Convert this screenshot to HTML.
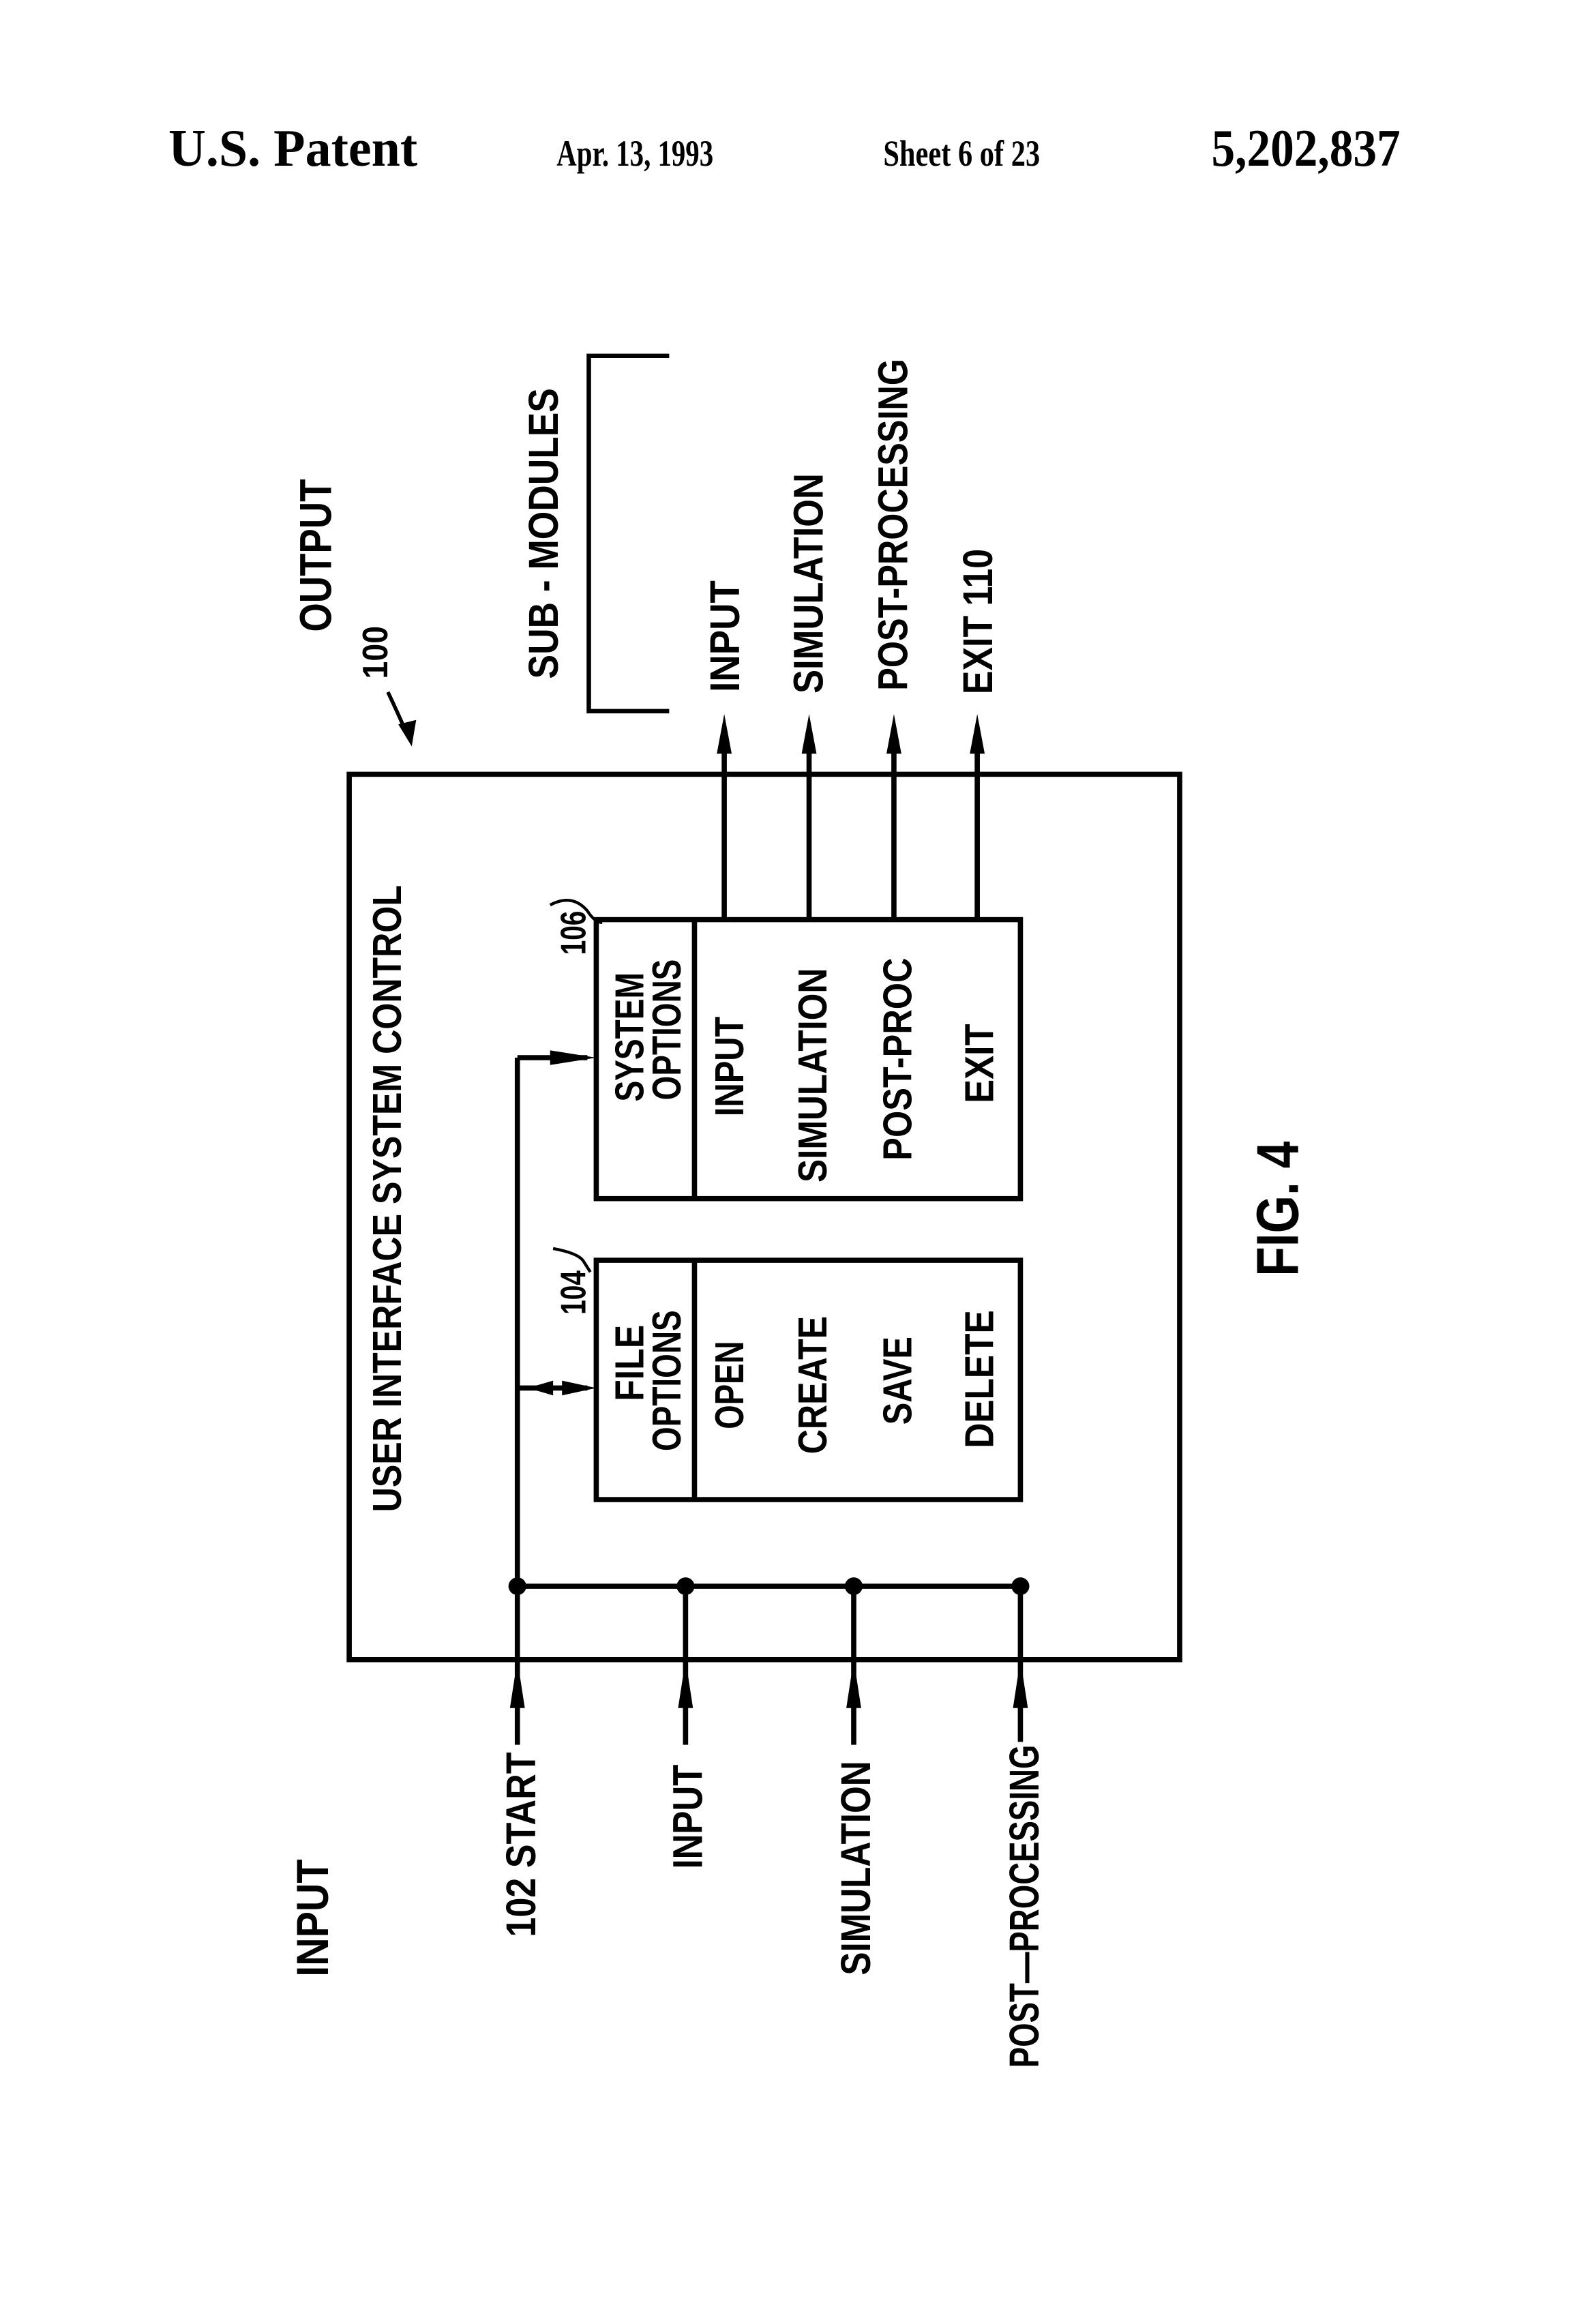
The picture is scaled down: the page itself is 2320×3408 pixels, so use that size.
<!DOCTYPE html>
<html><head><meta charset="utf-8"><style>
html,body{margin:0;padding:0;background:#fff;}
svg{display:block;}
.t{font-family:"Liberation Sans",sans-serif;font-weight:bold;fill:#000;}
.h{font-family:"Liberation Serif",serif;font-weight:bold;fill:#000;}
</style></head><body>
<svg width="2320" height="3408" viewBox="0 0 1080 1586" preserveAspectRatio="none" xmlns="http://www.w3.org/2000/svg">
<rect width="1080" height="1586" fill="#fff"/>
<text class="h" x="115" y="113" font-size="36" textLength="170" lengthAdjust="spacingAndGlyphs">U.S. Patent</text>
<text class="h" x="380" y="113" font-size="25" textLength="107" lengthAdjust="spacingAndGlyphs">Apr. 13, 1993</text>
<text class="h" x="603" y="113" font-size="25" textLength="107" lengthAdjust="spacingAndGlyphs">Sheet 6 of 23</text>
<text class="h" x="827" y="113" font-size="36" textLength="129" lengthAdjust="spacingAndGlyphs">5,202,837</text>

<g transform="translate(238.4,528.4) scale(1.016,1.002) translate(-235,-519)">
<g stroke="#000" fill="none" stroke-width="3.5">
<rect x="235" y="519" width="558" height="603"/>
<rect x="401" y="850" width="285" height="163"/>
<line x1="467" y1="850" x2="467" y2="1013"/>
<rect x="401" y="618" width="285" height="190"/>
<line x1="467" y1="618" x2="467" y2="808"/>
<line x1="348" y1="1072" x2="686" y2="1072"/>
<line x1="348" y1="712" x2="348" y2="1180"/>
<line x1="461" y1="1072" x2="461" y2="1180"/>
<line x1="574" y1="1072" x2="574" y2="1180"/>
<line x1="686" y1="1072" x2="686" y2="1178"/>
<line x1="348" y1="712" x2="395" y2="712"/>
<line x1="348" y1="937" x2="395" y2="937"/>
<line x1="487" y1="618" x2="487" y2="490"/>
<line x1="544" y1="618" x2="544" y2="490"/>
<line x1="601" y1="618" x2="601" y2="490"/>
<line x1="657" y1="618" x2="657" y2="490"/>
<polyline points="450,234 396,234 396,476 450,476" stroke-width="3"/>
<path d="M261,463 Q268,478 274,492" stroke-width="2.5"/>
<path d="M370,608 Q385,600 395,612 Q400,620 405,620" stroke-width="2"/>
<path d="M372,842 Q388,845 392,850 L397,858" stroke-width="2"/>
</g>
<g fill="#000">
<circle cx="348" cy="1072" r="6"/><circle cx="461" cy="1072" r="6"/><circle cx="574" cy="1072" r="6"/><circle cx="686" cy="1072" r="6"/>
<polygon points="348,1122 343,1155 353,1155"/>
<polygon points="461,1122 456,1155 466,1155"/>
<polygon points="574,1122 569,1155 579,1155"/>
<polygon points="686,1122 681,1155 691,1155"/>
<polygon points="401,712 370,707 370,717"/>
<polygon points="401,937 378,932 378,942"/>
<polygon points="355,937 372,932 372,942"/>
<polygon points="487,478 482,505 492,505"/>
<polygon points="544,478 539,505 549,505"/>
<polygon points="601,478 596,505 606,505"/>
<polygon points="657,478 652,505 662,505"/>
<polygon points="277,500 268,485 280,482"/>
</g>

<g class="t">
<text transform="translate(210,1298) rotate(-90)" text-anchor="middle" dy="0.36em" font-size="30" textLength="80" lengthAdjust="spacingAndGlyphs">INPUT</text>
<text transform="translate(212,370) rotate(-90)" text-anchor="middle" dy="0.36em" font-size="30" textLength="104" lengthAdjust="spacingAndGlyphs">OUTPUT</text>
<text transform="translate(252,436) rotate(-90)" text-anchor="middle" dy="0.36em" font-size="24" textLength="36" lengthAdjust="spacingAndGlyphs">100</text>
<text transform="translate(365,355) rotate(-90)" text-anchor="middle" dy="0.36em" font-size="28" textLength="198" lengthAdjust="spacingAndGlyphs">SUB - MODULES</text>
<text transform="translate(487,425) rotate(-90)" text-anchor="middle" dy="0.36em" font-size="28" textLength="76" lengthAdjust="spacingAndGlyphs">INPUT</text>
<text transform="translate(543,389) rotate(-90)" text-anchor="middle" dy="0.36em" font-size="28" textLength="150" lengthAdjust="spacingAndGlyphs">SIMULATION</text>
<text transform="translate(600,349) rotate(-90)" text-anchor="middle" dy="0.36em" font-size="28" textLength="226" lengthAdjust="spacingAndGlyphs">POST-PROCESSING</text>
<text transform="translate(657,415) rotate(-90)" text-anchor="middle" dy="0.36em" font-size="28" textLength="99" lengthAdjust="spacingAndGlyphs">EXIT 110</text>
<text transform="translate(260,808) rotate(-90)" text-anchor="middle" dy="0.36em" font-size="27" textLength="427" lengthAdjust="spacingAndGlyphs">USER INTERFACE SYSTEM CONTROL</text>
<text transform="translate(385,627) rotate(-90)" text-anchor="middle" dy="0.36em" font-size="24" textLength="30" lengthAdjust="spacingAndGlyphs">106</text>
<text transform="translate(385,872) rotate(-90)" text-anchor="middle" dy="0.36em" font-size="24" textLength="30" lengthAdjust="spacingAndGlyphs">104</text>
<text transform="translate(423,698) rotate(-90)" text-anchor="middle" dy="0.36em" font-size="27" textLength="88" lengthAdjust="spacingAndGlyphs">SYSTEM</text>
<text transform="translate(448,693) rotate(-90)" text-anchor="middle" dy="0.36em" font-size="27" textLength="96" lengthAdjust="spacingAndGlyphs">OPTIONS</text>
<text transform="translate(490,718) rotate(-90)" text-anchor="middle" dy="0.36em" font-size="27" textLength="68" lengthAdjust="spacingAndGlyphs">INPUT</text>
<text transform="translate(546,724) rotate(-90)" text-anchor="middle" dy="0.36em" font-size="27" textLength="146" lengthAdjust="spacingAndGlyphs">SIMULATION</text>
<text transform="translate(603,713) rotate(-90)" text-anchor="middle" dy="0.36em" font-size="27" textLength="138" lengthAdjust="spacingAndGlyphs">POST-PROC</text>
<text transform="translate(658,716) rotate(-90)" text-anchor="middle" dy="0.36em" font-size="27" textLength="54" lengthAdjust="spacingAndGlyphs">EXIT</text>
<text transform="translate(423,920) rotate(-90)" text-anchor="middle" dy="0.36em" font-size="27" textLength="52" lengthAdjust="spacingAndGlyphs">FILE</text>
<text transform="translate(448,932) rotate(-90)" text-anchor="middle" dy="0.36em" font-size="27" textLength="96" lengthAdjust="spacingAndGlyphs">OPTIONS</text>
<text transform="translate(490,935) rotate(-90)" text-anchor="middle" dy="0.36em" font-size="27" textLength="60" lengthAdjust="spacingAndGlyphs">OPEN</text>
<text transform="translate(546,935) rotate(-90)" text-anchor="middle" dy="0.36em" font-size="27" textLength="94" lengthAdjust="spacingAndGlyphs">CREATE</text>
<text transform="translate(603,932) rotate(-90)" text-anchor="middle" dy="0.36em" font-size="27" textLength="60" lengthAdjust="spacingAndGlyphs">SAVE</text>
<text transform="translate(658,931) rotate(-90)" text-anchor="middle" dy="0.36em" font-size="27" textLength="94" lengthAdjust="spacingAndGlyphs">DELETE</text>
<text transform="translate(350,1248) rotate(-90)" text-anchor="middle" dy="0.36em" font-size="28" textLength="126" lengthAdjust="spacingAndGlyphs">102 START</text>
<text transform="translate(462,1229) rotate(-90)" text-anchor="middle" dy="0.36em" font-size="28" textLength="71" lengthAdjust="spacingAndGlyphs">INPUT</text>
<text transform="translate(575,1264) rotate(-90)" text-anchor="middle" dy="0.36em" font-size="28" textLength="146" lengthAdjust="spacingAndGlyphs">SIMULATION</text>
<text transform="translate(688,1290) rotate(-90)" text-anchor="middle" dy="0.36em" font-size="28" textLength="220" lengthAdjust="spacingAndGlyphs">POST—PROCESSING</text>
<text transform="translate(858,815) rotate(-90)" text-anchor="middle" dy="0.36em" font-size="40" textLength="92" lengthAdjust="spacingAndGlyphs">FIG. 4</text>
</g>
</g>
</svg>
</body></html>
